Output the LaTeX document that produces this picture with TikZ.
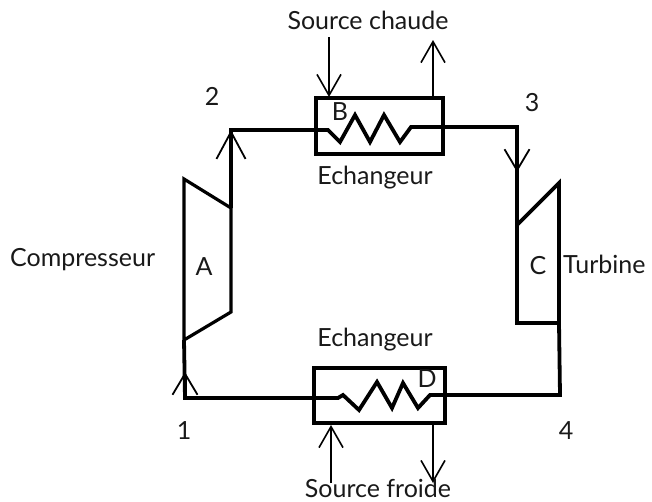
\documentclass[tikz,border=0pt]{standalone}
\usepackage{fontspec}
\setmainfont{Lato}
\usetikzlibrary{arrows.meta}
\tikzset{
  thickline/.style={line width=3.8pt,line join=miter},
  boxline/.style={line width=3.2pt},
  flow/.style={line width=1.6pt,-{Straight Barb[length=21pt,width=24pt,line width=1.6pt]}},
  thickflow/.style={line width=3.8pt,-{Straight Barb[length=21pt,width=25pt,line width=1.8pt]}},
  bigflow/.style={line width=3.8pt,-{Straight Barb[length=27pt,width=29pt,line width=1.8pt]}},
  lbl/.style={inner sep=0pt,font=\fontsize{25pt}{30pt}\selectfont,text=black!90}
}
\begin{document}
\begin{tikzpicture}[x=1pt,y=-1pt]
\useasboundingbox (0,0) rectangle (652,501);
% exchangers
\node[draw,boxline,minimum width=127pt,minimum height=56pt,inner sep=0pt] (hot) at (379.5,126) {};
\node[draw,boxline,minimum width=131pt,minimum height=55pt,inner sep=0pt] (cold) at (379.5,395.5) {};
% machines
\coordinate (a1) at (184,179);\coordinate (a2) at (231,208);\coordinate (a3) at (231,312);\coordinate (a4) at (184,340);
\draw[boxline] (a1)--(a2)--(a3)--(a4)--cycle;
\coordinate (c1) at (517,225);\coordinate (c2) at (559,183);\coordinate (c3) at (559,323);\coordinate (c4) at (517,323);
\draw[thickline] (c1)--(c2)--(c3)--(c4)--cycle;
% named points
\coordinate (p2) at (231,130);
\coordinate (p3) at (517,127);
\coordinate (p4) at (560,395);
\coordinate (p1) at (185,398);
\coordinate (t3) at (517,172);
\coordinate (t1) at (185,372);
\coordinate (hin) at (329,37);
\coordinate (hinE) at (329,97);
\coordinate (hout) at (433,40);
\coordinate (houtS) at (433,99);
\coordinate (cinS) at (331,483);
\coordinate (cinE) at (331,425);
\coordinate (coutS) at (433,424);
\coordinate (coutE) at (433,483);
% main loop
\draw[thickline] (a2)--(p2)--(328,130)--(340,142)--(355,115)--(370,142)--(384,115)--(400,142)--(411,127)--(p3)--(c1);
\draw[thickline] (c3)--(p4)--(430,395)--(418,408)--(403,383)--(392,408)--(377,382)--(359,410)--(343,395)--(338,398)--(p1)--(a4);
% arrowheads
\draw[bigflow] (231,170)--(p2);
\draw[thickflow] (p3)--(t3);
\draw[thickflow] (p1)--(t1);
% source arrows
\draw[flow] (hin)--(hinE);
\draw[flow] (houtS)--(hout);
\draw[flow] (cinS)--(cinE);
\draw[flow] (coutS)--(coutE);
% labels
\node[lbl] (schaude) at (368,20) {Source chaude};
\node[lbl] (ech1) at (375,178) {Echangeur};
\node[lbl] (lb) at (340,112) {B};
\node[lbl] (l2) at (212,96) {2};
\node[lbl] (l3) at (532,103) {3};
\node[lbl] (la) at (204,267) {A};
\node[lbl] (lc) at (538,266) {C};
\node[lbl,anchor=west] (turb) at (563,264) {Turbine};
\node[lbl,anchor=west] (comp) at (10,260) {Compresseur};
\node[lbl] (ech2) at (375,340) {Echangeur};
\node[lbl] (ld) at (427,379) {D};
\node[lbl] (l1) at (184,431) {1};
\node[lbl] (l4) at (566,431) {4};
\node[lbl] (sfroide) at (378,488) {Source froide};
\end{tikzpicture}
\end{document}
